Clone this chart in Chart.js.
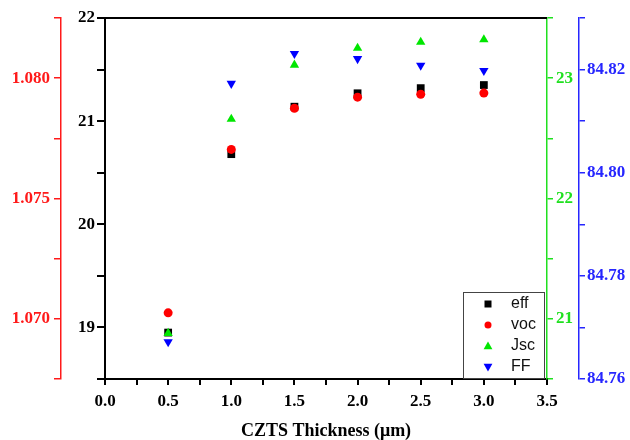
<!DOCTYPE html>
<html>
<head>
<meta charset="utf-8">
<script src="https://cdn.jsdelivr.net/npm/chart.js@4.4.1/dist/chart.umd.min.js"></script>
<style>
  html, body { margin: 0; padding: 0; background: #fff; }
  #wrap { width: 630px; height: 440px; position: relative; }
</style>
</head>
<body>
<div id="wrap"><canvas id="chart"></canvas></div>
<script>
const thickness = [0.5, 1.0, 1.5, 2.0, 2.5, 3.0];
const effValues = [18.95, 20.68, 21.14, 21.27, 21.32, 21.35];
const vocValues = [1.07025, 1.07704, 1.07875, 1.07921, 1.07933, 1.07938];
const jscValues = [20.88, 22.66, 23.11, 23.25, 23.30, 23.32];
const ffValues = [84.7672, 84.8173, 84.8231, 84.8221, 84.8208, 84.8198];

const seriesNames = ["eff", "voc", "Jsc", "FF"];
const xTitle = "CZTS Thickness (\u03bcm)";

const RED = "#ff1a1a";
const GREEN = "#1fe01f";
const BLUE = "#2626ff";
const tickFont = { family: "'Liberation Serif', 'Times New Roman', serif", size: 17, weight: "bold" };

function toPoints(values) {
  return thickness.map((x, i) => ({ x, y: values[i] }));
}

function axisStyle(color, width, tickLen) {
  return {
    border: { display: true, color, width },
    grid: { display: true, drawOnChartArea: false, drawTicks: true, tickLength: tickLen, color, tickColor: color, lineWidth: width }
  };
}

function drawMarker(ctx, style, x, y, r, color) {
  ctx.save();
  ctx.fillStyle = color;
  ctx.beginPath();
  if (style === "rect") {
    ctx.rect(x - r, y - r, 2 * r, 2 * r);
  } else if (style === "circle") {
    ctx.arc(x, y, r, 0, Math.PI * 2);
  } else if (style === "up") {
    ctx.moveTo(x, y - r * 1.1);
    ctx.lineTo(x + r * 1.1, y + r * 0.8);
    ctx.lineTo(x - r * 1.1, y + r * 0.8);
  } else {
    ctx.moveTo(x, y + r * 1.1);
    ctx.lineTo(x + r * 1.1, y - r * 0.8);
    ctx.lineTo(x - r * 1.1, y - r * 0.8);
  }
  ctx.closePath();
  ctx.fill();
  ctx.restore();
}

const framePlugin = {
  id: "frame",
  afterDraw(chart) {
    const { ctx, chartArea } = chart;
    ctx.save();
    ctx.strokeStyle = "#000";
    ctx.lineWidth = 2;
    ctx.beginPath();
    ctx.moveTo(chartArea.left - 1, chartArea.top);
    ctx.lineTo(chartArea.right, chartArea.top);
    ctx.stroke();

    // legend box, bottom right inside the plot
    const bx = chartArea.right - 84;
    const by = chartArea.bottom - 87;
    ctx.lineWidth = 1;
    ctx.strokeStyle = "#444";
    ctx.fillStyle = "#fff";
    ctx.fillRect(bx, by, 81, 86);
    ctx.strokeRect(bx + 0.5, by + 0.5, 81, 86);

    const styles = ["rect", "circle", "up", "down"];
    const colors = ["#000", "#ff0000", "#00e600", "#0000ff"];
    ctx.font = "16px 'Liberation Sans', Arial, sans-serif";
    ctx.textBaseline = "middle";
    seriesNames.forEach((name, i) => {
      const y = by + 12 + i * 21;
      drawMarker(ctx, styles[i], bx + 25, y, i < 2 ? 3.5 : 4, colors[i]);
      ctx.fillStyle = "#111";
      ctx.fillText(name, bx + 48, y);
    });
    ctx.restore();
  }
};

new Chart(document.getElementById("chart"), {
  type: "scatter",
  data: {
    datasets: [
      { label: seriesNames[0], data: toPoints(effValues), yAxisID: "yEff", order: 4,
        pointStyle: "rect", pointRadius: 5.5, backgroundColor: "#000", borderColor: "#000", borderWidth: 0 },
      { label: seriesNames[1], data: toPoints(vocValues), yAxisID: "yVoc", order: 3,
        pointStyle: "circle", pointRadius: 4.5, backgroundColor: "#ff0000", borderColor: "#ff0000", borderWidth: 0 },
      { label: seriesNames[2], data: toPoints(jscValues), yAxisID: "yJsc", order: 2,
        pointStyle: "triangle", pointRadius: 5.4, backgroundColor: "#00e600", borderColor: "#00e600", borderWidth: 0 },
      { label: seriesNames[3], data: toPoints(ffValues), yAxisID: "yFF", order: 1,
        pointStyle: "triangle", rotation: 180, pointRadius: 5.4, backgroundColor: "#0000ff", borderColor: "#0000ff", borderWidth: 0 }
    ]
  },
  options: {
    responsive: true,
    maintainAspectRatio: false,
    animation: false,
    layout: { padding: { top: 18, left: 0, right: 0, bottom: 0 } },
    plugins: { legend: { display: false }, tooltip: { enabled: false } },
    scales: {
      x: {
        type: "linear",
        position: "bottom",
        min: 0,
        max: 3.5,
        ...axisStyle("#000", 2, 6),
        ticks: {
          stepSize: 0.25,
          autoSkip: false,
          maxTicksLimit: 30,
          maxRotation: 0,
          padding: 6,
          color: "#000",
          font: tickFont,
          callback: v => (Math.round(v * 4) % 2 === 0 ? v.toFixed(1) : "")
        },
        title: {
          display: true,
          text: xTitle,
          color: "#000",
          padding: 0,
          font: { family: "'Liberation Serif', 'Times New Roman', serif", size: 18, weight: "bold", lineHeight: 1 }
        },
        afterFit(scale) { scale.height = 61; }
      },
      yVoc: {
        type: "linear",
        position: "left",
        weight: 2,
        min: 1.0675,
        max: 1.0825,
        ...axisStyle(RED, 1.5, 7),
        ticks: {
          stepSize: 0.0025,
          autoSkip: false,
          padding: 4,
          color: RED,
          font: tickFont,
          callback: v => (Math.round(v * 10000) % 50 === 0 ? v.toFixed(3) : "")
        },
        afterFit(scale) { scale.width = 61; }
      },
      yEff: {
        type: "linear",
        position: "left",
        weight: 1,
        min: 18.5,
        max: 22,
        ...axisStyle("#000", 2, 8),
        ticks: {
          stepSize: 0.5,
          autoSkip: false,
          padding: 2,
          color: "#000",
          font: tickFont,
          callback: v => (Math.abs(v - Math.round(v)) < 1e-6 ? String(Math.round(v)) : "")
        },
        afterFit(scale) { scale.width = 44; }
      },
      yJsc: {
        type: "linear",
        position: "right",
        weight: 1,
        min: 20.5,
        max: 23.5,
        ...axisStyle(GREEN, 1.5, 6),
        ticks: {
          stepSize: 0.5,
          autoSkip: false,
          padding: 3,
          color: GREEN,
          font: tickFont,
          callback: v => (Math.abs(v - Math.round(v)) < 1e-6 ? String(Math.round(v)) : "")
        },
        afterFit(scale) { scale.width = 32; }
      },
      yFF: {
        type: "linear",
        position: "right",
        weight: 2,
        min: 84.76,
        max: 84.83,
        ...axisStyle(BLUE, 1.5, 6),
        ticks: {
          stepSize: 0.01,
          autoSkip: false,
          padding: 2,
          color: BLUE,
          font: tickFont,
          callback: v => (Math.round(v * 100) % 2 === 0 ? v.toFixed(2) : "")
        },
        afterFit(scale) { scale.width = 51; }
      }
    }
  },
  plugins: [framePlugin]
});
</script>
</body>
</html>
